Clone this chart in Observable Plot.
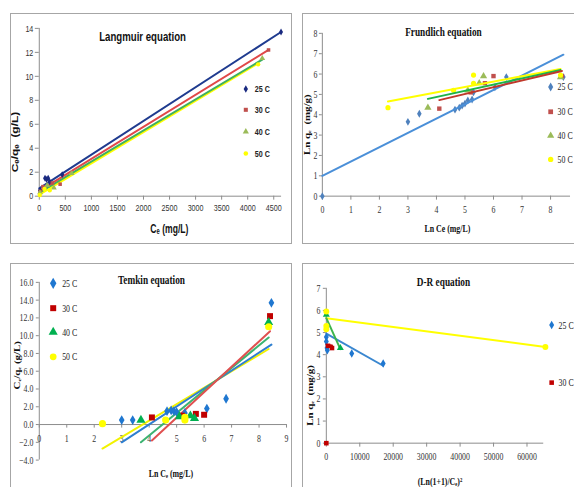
<!DOCTYPE html>
<html><head><meta charset="utf-8">
<script src="https://cdn.jsdelivr.net/npm/d3@7"></script>
<script src="https://cdn.jsdelivr.net/npm/@observablehq/plot@0.6"></script>
<style>
body{margin:0;background:#fff;}
#wrap{position:relative;width:574px;height:487px;overflow:hidden;background:#fff;}
.panel{position:absolute;border:1px solid #a6a6a6;box-sizing:border-box;overflow:hidden;background:#fff;}
.panel svg{position:absolute;left:-1px;top:-1px;overflow:visible;}
</style></head><body><div id="wrap"></div>
<script>
const tempLabels = ["25 C", "30 C", "40 C", "50 C"];

// ---------- Langmuir: Ce (mg/L) vs Ce/qe (g/L)
const langX25 = [15, 110, 140, 170, 200, 440, 4640];
const langY25 = [0.5, 1.5, 1.4, 1.5, 1.2, 1.8, 13.7];
const langX30 = [20, 70, 250, 400, 4400];
const langY30 = [0.4, 0.8, 1.1, 1.0, 12.2];
const langX40 = [15, 150, 280, 620, 4280];
const langY40 = [0.3, 0.9, 0.7, 1.9, 11.5];
const langX50 = [10, 100, 200, 4200];
const langY50 = [0.1, 0.6, 0.5, 11.0];
const langFitX25 = [0, 4640], langFitY25 = [0.65, 13.7];
const langFitX30 = [0, 4400], langFitY30 = [0.45, 12.2];
const langFitX40 = [0, 4280], langFitY40 = [0.3, 11.4];
const langFitX50 = [0, 4200], langFitY50 = [0.15, 11.1];
const langXTicks = [0, 500, 1000, 1500, 2000, 2500, 3000, 3500, 4000, 4500];
const langYTicks = [0, 2, 4, 6, 8, 10, 12, 14];

// ---------- Freundlich: Ln Ce vs Ln qe
const frX25 = [0, 3.0, 3.4, 4.65, 4.8, 4.9, 5.0, 5.1, 5.25, 5.3, 6.05, 6.45, 8.45];
const frY25 = [0, 3.65, 4.05, 4.25, 4.35, 4.45, 4.55, 4.7, 4.75, 5.1, 5.35, 5.85, 5.85];
const frX30 = [4.1, 5.2, 5.7, 6.0, 8.4];
const frY30 = [4.3, 5.1, 5.55, 5.9, 5.9];
const frX40 = [3.7, 5.1, 5.5, 5.65, 8.35];
const frY40 = [4.35, 5.2, 5.55, 5.9, 5.85];
const frX50 = [2.3, 4.6, 5.3, 5.3, 8.35];
const frY50 = [4.35, 5.2, 5.55, 5.95, 5.95];
const frFitX25 = [0, 8.45], frFitY25 = [1.0, 6.95];
const frFitX30 = [4.1, 8.4], frFitY30 = [4.72, 6.15];
const frFitX40 = [3.7, 8.35], frFitY40 = [4.78, 6.2];
const frFitX50 = [2.3, 8.35], frFitY50 = [4.65, 6.25];
const frXTicks = [0, 1, 2, 3, 4, 5, 6, 7, 8];
const frYTicks = [0, 1, 2, 3, 4, 5, 6, 7, 8];

// ---------- Temkin: Ln Ce vs Ce/qe
const tkX25 = [3.0, 3.4, 4.65, 4.8, 4.9, 5.0, 5.3, 6.1, 6.8, 8.45];
const tkY25 = [0.5, 0.5, 1.5, 1.6, 1.5, 1.4, 1.3, 1.8, 2.9, 13.7];
const tkX30 = [4.1, 5.2, 5.7, 6.0, 8.4];
const tkY30 = [0.8, 1.0, 1.2, 1.1, 12.2];
const tkX40 = [3.7, 5.1, 5.5, 5.65, 8.35];
const tkY40 = [0.5, 0.9, 1.0, 0.7, 11.5];
const tkX50 = [2.3, 4.6, 5.3, 5.3, 8.35];
const tkY50 = [0.1, 0.5, 0.5, 0.8, 11.0];
const tkFitX25 = [3.0, 8.45], tkFitY25 = [-2.0, 9.0];
const tkFitX30 = [4.1, 8.4], tkFitY30 = [-1.8, 10.5];
const tkFitX40 = [3.7, 8.35], tkFitY40 = [-2.0, 9.8];
const tkFitX50 = [2.3, 8.35], tkFitY50 = [-2.7, 8.5];
const tkXTicks = [0, 1, 2, 3, 4, 5, 6, 7, 8, 9];
const tkYTicks = [-4, -2, 0, 2, 4, 6, 8, 10, 12, 14, 16];

// ---------- D-R: (ln(1+1/Ce))^2 vs Ln qe
const drX25 = [0, 0, 200, 300, 7600, 17000];
const drY25 = [4.8, 4.6, 4.3, 4.2, 4.05, 3.6];
const drX30 = [0, 0, 500, 1700];
const drY30 = [0, 5.2, 4.4, 4.3];
const drX40 = [0, 4200];
const drY40 = [5.8, 4.3];
const drX50 = [0, 0, 0, 65500];
const drY50 = [5.95, 5.3, 5.15, 4.35];
const drFitX25 = [0, 17000], drFitY25 = [4.95, 3.5];
const drFitX30 = [0, 1700], drFitY30 = [4.45, 4.42];
const drFitX40 = [0, 4200], drFitY40 = [5.65, 4.25];
const drFitX50 = [0, 65500], drFitY50 = [5.65, 4.35];
const drXTicks = [0, 10000, 20000, 30000, 40000, 50000, 60000];
const drYTicks = [0, 1, 2, 3, 4, 5, 6, 7];

// ---------- helpers
const pts = (xs, ys) => xs.map((x, i) => ({x, y: ys[i]}));
const SANS = "'Liberation Sans', Arial, sans-serif";
const SERIF = "'Liberation Serif', 'Times New Roman', serif";
const K = 0.72;
const plain = d => String(d);

function seriesLine(fx, fy, color, w = 2) {
  return Plot.line(pts(fx, fy), {x: "x", y: "y", stroke: color, strokeWidth: w});
}
function seriesDots(xs, ys, symbol, fill, r) {
  return Plot.dot(pts(xs, ys), {x: "x", y: "y", symbol, fill, stroke: "none", r});
}
function legend(labels, styles, o) {
  return labels.flatMap((lab, i) => [
    Plot.dot([lab], {frameAnchor: "top-left", dx: o.dx, dy: o.dy[i], symbol: styles[i].symbol, fill: styles[i].fill, r: o.r}),
    Plot.text([lab], {frameAnchor: "top-left", dx: o.dx + o.gap, dy: o.dy[i], text: d => d, textAnchor: "start", lineAnchor: "middle",
      fontSize: o.fs, fontWeight: o.fw, fontFamily: o.font, fill: "#222"})
  ]);
}
function label(txt, o) {
  return Plot.text([txt], Object.assign({text: d => d, fill: "#111", textAnchor: "middle", lineAnchor: "middle"}, o));
}
function compress(svg) {
  d3.select(svg).selectAll("text").each(function() {
    const t = this.getAttribute("transform") || "";
    this.setAttribute("transform", t + (t.includes("rotate(-90)") ? ` scale(1,${K})` : ` scale(${K},1)`));
  });
}
function mount(svg, box) {
  const d = document.createElement("div");
  d.className = "panel";
  Object.assign(d.style, {left: box[0] + "px", top: box[1] + "px", width: box[2] + "px", height: box[3] + "px"});
  compress(svg);
  d.appendChild(svg);
  document.getElementById("wrap").appendChild(d);
}
const AX = "#8c8c8c";

// ---------- Panel 1: Langmuir
{
  const st = [
    {symbol: "diamond", fill: "#1a2a80"},
    {symbol: "square", fill: "#c0504d"},
    {symbol: "triangle", fill: "#9bbb59"},
    {symbol: "circle", fill: "#ffff00"}
  ];
  const svg = Plot.plot({
    width: 282, height: 231, marginLeft: 29, marginRight: 9, marginTop: 15, marginBottom: 47,
    x: {domain: [0, 4650]}, y: {domain: [0, 14]},
    style: {fontFamily: SANS, fontSize: "10px", color: "#333", background: "transparent"},
    marks: [
      Plot.axisX({ticks: langXTicks, tickFormat: plain, tickSize: 4, tickPadding: 4, stroke: AX, fontSize: 10, fill: "#333", label: null}),
      Plot.axisY({ticks: langYTicks, tickFormat: plain, tickSize: 4, tickPadding: 2, stroke: AX, fontSize: 10, fill: "#333", label: null}),
      Plot.ruleY([0], {stroke: AX}),
      Plot.ruleX([0], {stroke: AX}),
      seriesLine(langFitX50, langFitY50, "#ffff00", 2.5),
      seriesLine(langFitX40, langFitY40, "#40b060"),
      seriesLine(langFitX30, langFitY30, "#e04848"),
      seriesLine(langFitX25, langFitY25, "#1f3b8f"),
      seriesDots(langX25, langY25, st[0].symbol, st[0].fill, 2.1),
      seriesDots(langX30, langY30, st[1].symbol, st[1].fill, 2),
      seriesDots(langX40, langY40, st[2].symbol, st[2].fill, 2.2),
      seriesDots(langX50, langY50, st[3].symbol, st[3].fill, 2.2),
      label("Langmuir equation", {frameAnchor: "top-left", dx: 104, dy: 8, fontSize: 13.5, fontWeight: "bold", fontFamily: SANS}),
      label("Cₑ (mg/L)", {frameAnchor: "bottom", dx: 9, dy: 33, fontSize: 12, fontWeight: "bold", fontFamily: SANS}),
      label("Cₑ/qₑ  (g/L)", {frameAnchor: "left", dx: -24, dy: 30, rotate: -90, fontSize: 12, fontWeight: "bold", fontFamily: SANS}),
      ...legend(tempLabels, st, {dx: 208, dy: [61, 82, 104, 126], gap: 9, r: 2.3, fs: 10, fw: "bold", font: SANS})
    ]
  });
  mount(svg, [10, 13, 282, 231]);
}

// ---------- Panel 2: Frundlich
{
  const st = [
    {symbol: "diamond", fill: "#4f81bd"},
    {symbol: "square", fill: "#c0504d"},
    {symbol: "triangle", fill: "#9bbb59"},
    {symbol: "circle", fill: "#ffff00"}
  ];
  const svg = Plot.plot({
    width: 274, height: 231, marginLeft: 20, marginRight: 4, marginTop: 20, marginBottom: 47,
    x: {domain: [0, 8.7]}, y: {domain: [0, 8]},
    style: {fontFamily: SERIF, fontSize: "11px", color: "#333", background: "transparent"},
    marks: [
      Plot.axisX({ticks: frXTicks, tickFormat: plain, tickSize: 4, tickPadding: 5, stroke: AX, fontSize: 11, fill: "#333", label: null}),
      Plot.axisY({ticks: frYTicks, tickFormat: plain, tickSize: 3, tickPadding: 2, stroke: AX, fontSize: 11, fill: "#333", label: null}),
      Plot.ruleY([0], {stroke: AX}),
      Plot.ruleX([0], {stroke: AX}),
      seriesDots(frX25, frY25, st[0].symbol, st[0].fill, 2.4),
      seriesDots(frX30, frY30, st[1].symbol, st[1].fill, 2.5),
      seriesDots(frX40, frY40, st[2].symbol, st[2].fill, 2.7),
      seriesDots(frX50, frY50, st[3].symbol, st[3].fill, 2.6),
      seriesLine(frFitX25, frFitY25, "#4a8fd8", 2),
      seriesLine(frFitX50, frFitY50, "#ffff00", 2),
      seriesLine(frFitX40, frFitY40, "#1db34a", 2),
      seriesLine(frFitX30, frFitY30, "#c0392b", 2),
      label("Frundlich equation", {frameAnchor: "top-left", dx: 122, dy: -1, fontSize: 13, fontWeight: "bold", fontFamily: SERIF}),
      label("Ln Ce (mg/L)", {frameAnchor: "bottom", dx: 1, dy: 33, fontSize: 11, fontWeight: "bold", fontFamily: SERIF}),
      label("Ln qₑ  (mg/g)", {frameAnchor: "left", dx: -15, dy: 10, rotate: -90, fontSize: 11, fontWeight: "bold", fontFamily: SERIF}),
      ...legend(tempLabels, st, {dx: 230, dy: [54, 79, 103, 127], gap: 7, r: 2.7, fs: 11, fw: "normal", font: SERIF})
    ]
  });
  mount(svg, [302, 13, 274, 231]);
}

// ---------- Panel 3: Temkin
{
  const st = [
    {symbol: "diamond", fill: "#1f77d0"},
    {symbol: "square", fill: "#c00000"},
    {symbol: "triangle", fill: "#00b050"},
    {symbol: "circle", fill: "#ffff00"}
  ];
  const svg = Plot.plot({
    width: 282, height: 226, marginLeft: 29, marginRight: 4, marginTop: 19, marginBottom: 28,
    x: {domain: [0, 9], axis: null}, y: {domain: [-4, 16]},
    style: {fontFamily: SERIF, fontSize: "11px", color: "#333", background: "transparent"},
    marks: [
      Plot.axisY({ticks: tkYTicks, tickSize: 3, tickPadding: 3, stroke: AX, fontSize: 11, fill: "#333", tickFormat: d3.format(".1f"), label: null}),
      Plot.ruleX([0], {stroke: AX}),
      Plot.ruleY([0], {stroke: AX}),
      Plot.ruleX(tkXTicks, {x: d => d, y1: 0, y2: -0.4, stroke: AX}),
      Plot.text(tkXTicks, {x: d => d, y: 0, dy: 14, text: d => String(d), fontSize: 11, fill: "#333", fontFamily: SERIF}),
      seriesLine(tkFitX50, tkFitY50, "#f2f200", 2),
      seriesLine(tkFitX25, tkFitY25, "#2f7fd0", 2),
      seriesLine(tkFitX40, tkFitY40, "#3cb371", 2),
      seriesLine(tkFitX30, tkFitY30, "#e05050", 2),
      seriesDots(tkX25, tkY25, st[0].symbol, st[0].fill, 3),
      seriesDots(tkX30, tkY30, st[1].symbol, st[1].fill, 3.4),
      seriesDots(tkX40, tkY40, st[2].symbol, st[2].fill, 3.4),
      seriesDots(tkX50, tkY50, st[3].symbol, st[3].fill, 3.6),
      label("Temkin equation", {frameAnchor: "top-left", dx: 113, dy: -3, fontSize: 13, fontWeight: "bold", fontFamily: SERIF}),
      label("Ln Cₑ (mg/L)", {frameAnchor: "bottom", dx: 8, dy: 14, fontSize: 11, fontWeight: "bold", fontFamily: SERIF}),
      label("Cₑ/qₑ (g/L)", {frameAnchor: "left", dx: -22, dy: -6, rotate: -90, fontSize: 11, fontWeight: "bold", fontFamily: SERIF}),
      ...legend(tempLabels, st, {dx: 14, dy: [1, 26, 50, 75], gap: 9, r: 3.4, fs: 11, fw: "normal", font: SERIF})
    ]
  });
  mount(svg, [10, 263, 282, 226]);
}

// ---------- Panel 4: D-R
{
  const st = [
    {symbol: "diamond", fill: "#1f77d0"},
    {symbol: "square", fill: "#c00000"},
    {symbol: "triangle", fill: "#00b050"},
    {symbol: "circle", fill: "#ffff00"}
  ];
  const svg = Plot.plot({
    width: 274, height: 226, marginLeft: 24, marginRight: 31, marginTop: 25, marginBottom: 45,
    x: {domain: [0, 65000]}, y: {domain: [0, 7]},
    style: {fontFamily: SERIF, fontSize: "11px", color: "#333", background: "transparent"},
    marks: [
      Plot.axisX({ticks: drXTicks, tickSize: 4, tickPadding: 5, stroke: AX, fontSize: 11, fill: "#333", tickFormat: plain, label: null}),
      Plot.axisY({ticks: drYTicks, tickSize: 3, tickPadding: 3, stroke: AX, fontSize: 11, fill: "#333", tickFormat: plain, label: null}),
      Plot.ruleY([0], {stroke: AX}),
      Plot.ruleX([0], {stroke: AX}),
      seriesLine(drFitX50, drFitY50, "#ffff00", 2),
      seriesLine(drFitX25, drFitY25, "#3a87d0", 2),
      seriesLine(drFitX40, drFitY40, "#3cb44b", 2),
      seriesLine(drFitX30, drFitY30, "#c00000", 2),
      seriesDots(drX25, drY25, st[0].symbol, st[0].fill, 2.6),
      seriesDots(drX30, drY30, st[1].symbol, st[1].fill, 2.6),
      seriesDots(drX40, drY40, st[2].symbol, st[2].fill, 2.6),
      seriesDots(drX50, drY50, st[3].symbol, st[3].fill, 3),
      label("D-R equation", {frameAnchor: "top-left", dx: 118, dy: -6, fontSize: 13, fontWeight: "bold", fontFamily: SERIF}),
      label("(Ln(1+1)/Cₑ)²", {frameAnchor: "bottom", dx: 5, dy: 39, fontSize: 11, fontWeight: "bold", fontFamily: SERIF}),
      label("Ln qₑ  (mg/g)", {frameAnchor: "left", dx: -16, dy: 30, rotate: -90, fontSize: 11, fontWeight: "bold", fontFamily: SERIF}),
      ...legend(tempLabels.slice(0, 2), st, {dx: 227, dy: [37, 95], gap: 7, r: 2.6, fs: 11, fw: "normal", font: SERIF})
    ]
  });
  mount(svg, [302, 263, 274, 226]);
}
</script></body></html>
